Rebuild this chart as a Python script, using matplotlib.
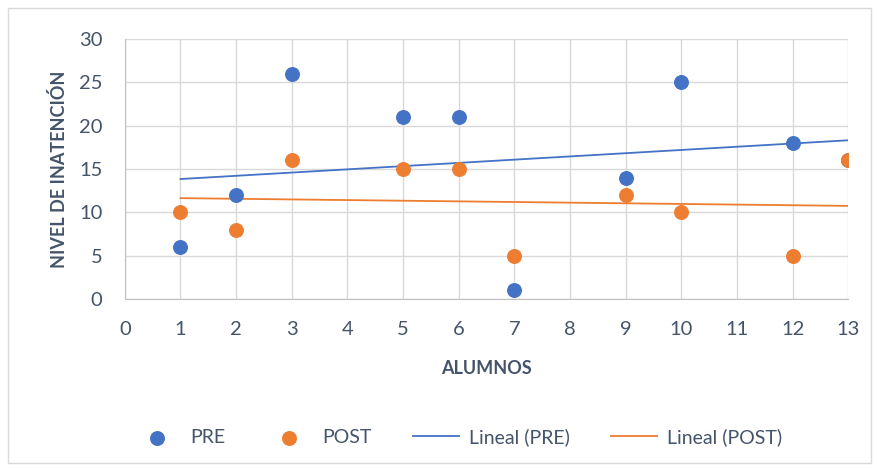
import numpy as np
import matplotlib.pyplot as plt
from matplotlib.patches import Rectangle

alumnos = [1, 2, 3, 5, 6, 7, 9, 10, 12, 13]
pre = [6, 12, 26, 21, 21, 1, 14, 25, 18, 16]
post = [10, 8, 16, 15, 15, 5, 12, 10, 5, 16]

blue = '#4472C4'
orange = '#ED7D31'
text_col = '#44546A'

plt.rcParams['font.family'] = ['Lato', 'DejaVu Sans']

fig = plt.figure(figsize=(8.79, 4.70), dpi=100)
fig.patches.append(Rectangle((0.009, 0.015), 0.982, 0.968, transform=fig.transFigure,
                             fill=False, edgecolor='#D9D9D9', linewidth=1))
ax = fig.add_axes([0.142, 0.364, 0.823, 0.553])

x = np.array(alumnos)
ax.scatter(alumnos, pre, s=95, color=blue, zorder=3, label='PRE')
ax.scatter(alumnos, post, s=95, color=orange, zorder=3, label='POST')

xs = np.array([x.min(), x.max()])
for ys, col, name in [(pre, blue, 'Lineal (PRE)'), (post, orange, 'Lineal (POST)')]:
    m, b = np.polyfit(x, ys, 1)
    ax.plot(xs, m * xs + b, color=col, linewidth=1.3, zorder=2, label=name)

ax.set_xlim(0, 13)
ax.set_ylim(0, 30)
ax.set_xticks(range(0, 14))
ax.set_yticks(range(0, 31, 5))
ax.grid(True, color='#D9D9D9', linewidth=1)
ax.set_axisbelow(True)
for s in ['top', 'right']:
    ax.spines[s].set_visible(False)
for s in ['left', 'bottom']:
    ax.spines[s].set_color('#BFBFBF')
ax.tick_params(length=0, labelsize=14.5, colors=text_col)
ax.tick_params(axis='x', pad=16)
ax.tick_params(axis='y', pad=16)

ax.set_xlabel('ALUMNOS', fontsize=13, fontweight='bold', color=text_col, labelpad=16)
ax.set_ylabel('NIVEL DE INATENCIÓN', fontsize=13, fontweight='bold', color=text_col, labelpad=8)

fig.legend(loc='center', bbox_to_anchor=(0.521, 0.07), ncol=4, frameon=False,
           fontsize=14, labelcolor=text_col, handlelength=2.4, columnspacing=2.1,
           handletextpad=0.5)

fig.savefig('out.png', dpi=100)
